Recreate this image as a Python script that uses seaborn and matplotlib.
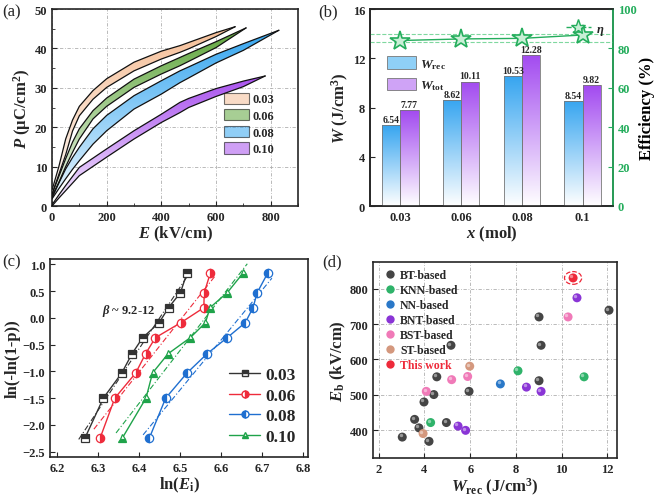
import matplotlib
matplotlib.use("Agg")
import matplotlib.pyplot as plt
import matplotlib.transforms as mtransforms
import numpy as np
import pandas as pd
import seaborn as sns
from matplotlib.colors import LinearSegmentedColormap
from matplotlib.lines import Line2D
from matplotlib.patches import Patch, Ellipse
from matplotlib.ticker import MultipleLocator

# ---------------- data ----------------
# (a) unipolar P-E loops: upper / lower branches
E_003 = [0, 25, 50, 75, 100, 150, 200, 300, 400, 468, 500, 600, 670]
P_003_up = [4.0, 10.0, 17.0, 21.8, 25.3, 29.3, 32.3, 36.5, 39.3, 40.7, 41.5, 44.0, 45.5]
P_003_lo = [3.0, 8.0, 13.0, 19.0, 22.9, 27.1, 30.1, 34.3, 37.3, 39.0, 39.9, 43.0, 45.5]
E_006 = [0, 25, 50, 75, 100, 150, 200, 300, 400, 468, 500, 600, 710]
P_006_up = [3.0, 7.5, 12.0, 16.2, 19.6, 24.2, 27.4, 32.2, 35.6, 37.7, 38.7, 41.7, 45.2]
P_006_lo = [2.5, 6.0, 10.0, 13.6, 17.0, 22.1, 25.3, 30.1, 33.5, 35.6, 36.7, 40.2, 45.2]
E_008 = [0, 25, 50, 75, 100, 150, 200, 300, 400, 468, 500, 600, 700, 830]
P_008_up = [2.0, 5.8, 9.4, 12.3, 14.9, 19.6, 23.0, 28.0, 31.8, 34.3, 35.3, 38.5, 41.2, 44.6]
P_008_lo = [1.8, 4.4, 6.9, 9.3, 11.5, 15.7, 19.1, 24.6, 28.4, 31.3, 32.5, 36.3, 39.5, 44.6]
E_010 = [0, 25, 50, 75, 100, 200, 300, 400, 468, 500, 600, 700, 780]
P_010_up = [0.3, 2.8, 5.2, 7.5, 9.8, 14.5, 19.1, 23.3, 26.3, 27.3, 29.8, 31.7, 33.0]
P_010_lo = [0.0, 2.0, 3.9, 5.8, 7.7, 12.4, 17.0, 21.2, 23.7, 25.0, 27.8, 30.3, 33.0]
loop_labels = ["0.03", "0.06", "0.08", "0.10"]

# (b) energy storage
x_mol = ["0.03", "0.06", "0.08", "0.1"]
W_rec = [6.54, 8.62, 10.53, 8.54]
W_tot = [7.77, 10.11, 12.28, 9.82]
eta = [84.0, 84.8, 85.1, 86.8]

# (c) Weibull
weib_y = [-2.25, -1.50, -1.03, -0.67, -0.37, -0.09, 0.19, 0.47, 0.84]
lnE_003 = [6.267, 6.312, 6.357, 6.382, 6.408, 6.448, 6.471, 6.500, 6.516]
lnE_006 = [6.304, 6.340, 6.391, 6.415, 6.439, 6.501, 6.557, 6.558, 6.573]
lnE_008 = [6.424, 6.464, 6.516, 6.565, 6.614, 6.658, 6.677, 6.687, 6.713]
lnE_010 = [6.358, 6.416, 6.432, 6.470, 6.524, 6.561, 6.572, 6.614, 6.653]

# (d) comparison
bt_w = [3.03, 3.57, 3.76, 3.98, 4.20, 4.41, 4.54, 4.96, 5.16, 5.95, 9.01, 9.10, 9.01, 12.07]
bt_e = [381, 431, 407, 480, 369, 501, 551, 422, 640, 510, 720, 640, 540, 739]
knn_w = [4.27, 8.09, 10.98]
knn_e = [422, 568, 551]
nn_w = [7.32]
nn_e = [531]
bnt_w = [5.47, 5.80, 8.46, 9.10, 10.67]
bnt_e = [412, 400, 522, 510, 774]
bst_w = [4.08, 5.19, 5.89, 10.28]
bst_e = [510, 543, 552, 720]
st_w = [3.94, 5.98]
st_e = [391, 581]
this_w = [10.50]
this_e = [830]

# ---------------- style ----------------
sns.set_style("ticks")
plt.rcParams["font.family"] = ["Liberation Serif", "DejaVu Serif"]
plt.rcParams["font.weight"] = "bold"
plt.rcParams["axes.labelweight"] = "bold"
plt.rcParams["mathtext.fontset"] = "custom"
plt.rcParams["mathtext.rm"] = "Liberation Serif:bold"
plt.rcParams["mathtext.it"] = "Liberation Serif:italic:bold"
plt.rcParams["mathtext.bf"] = "Liberation Serif:bold"
plt.rcParams["axes.linewidth"] = 1.2
plt.rcParams["xtick.direction"] = "in"
plt.rcParams["ytick.direction"] = "in"
plt.rcParams["xtick.labelsize"] = 9
plt.rcParams["ytick.labelsize"] = 9

TICK = 9
LAB = 12


def gradient_fill(ax, path, color, zorder, lo=0.0):
    """Fill a data-space path with a vertical gradient: colour on top, white below."""
    cmap = LinearSegmentedColormap.from_list("g", ["white", color])
    verts = path.vertices
    x0, y0 = verts.min(axis=0)
    x1, y1 = verts.max(axis=0)
    grad = np.linspace(lo, 1, 256).reshape(-1, 1)
    xl, yl = ax.get_xlim(), ax.get_ylim()
    im = ax.imshow(grad, extent=[x0, x1, y0, y1], origin="lower", cmap=cmap,
                   vmin=0, vmax=1, aspect="auto", zorder=zorder)
    im.set_clip_path(path, ax.transData)
    ax.set_xlim(xl)
    ax.set_ylim(yl)


def bold_ticks(ax):
    for t in ax.get_xticklabels() + ax.get_yticklabels():
        t.set_fontweight("bold")


def panel_letter(fig, x, y, s):
    fig.text(x / 661, 1 - y / 502, s, fontsize=12, fontweight="normal",
             ha="left", va="center")


fig = plt.figure(figsize=(6.61, 5.02), dpi=100)

# ---------------- (a) ----------------
axa = fig.add_axes([52 / 661, 1 - 207 / 502, 246 / 661, 197 / 502])
axa.set_xlim(0, 900)
axa.set_ylim(0, 50)
loops = [(E_003, P_003_up, P_003_lo, "#f5bf98"),
         (E_006, P_006_up, P_006_lo, "#5fa63c"),
         (E_008, P_008_up, P_008_lo, "#35a6f0"),
         (E_010, P_010_up, P_010_lo, "#a850ee")]
for E, up, lo, c in loops:
    poly = axa.fill_between(E, lo, up, facecolor="none", edgecolor="none", zorder=3)
    gradient_fill(axa, poly.get_paths()[0], c, zorder=3, lo=0.1)
    sns.lineplot(x=E, y=up, ax=axa, color="#111111", lw=0.9, zorder=4)
    sns.lineplot(x=E, y=lo, ax=axa, color="#111111", lw=0.9, zorder=4)
axa.set_xticks([0, 200, 400, 600, 800])
axa.set_yticks([0, 10, 20, 30, 40, 50])
axa.xaxis.set_minor_locator(MultipleLocator(100))
axa.yaxis.set_minor_locator(MultipleLocator(5))
axa.tick_params(which="both", top=False, right=False)
axa.grid(True, which="major", ls=(0, (4, 2, 1, 2)), lw=0.6, color="#b0b0b0")
axa.set_xlabel("$\\it{E}$ (kV/cm)", fontsize=LAB, labelpad=1)
axa.set_ylabel("$\\it{P}$ (μC/cm$^2$)", fontsize=LAB, labelpad=1)
hand_a = [Patch(facecolor=c, edgecolor="black", lw=0.8, alpha=0.55) for *_, c in loops]
axa.legend(hand_a, loop_labels, loc="lower right", bbox_to_anchor=(0.95, 0.2),
           frameon=False, fontsize=9, handlelength=2.0, handleheight=1.0,
           labelspacing=0.3, handletextpad=0.3)
bold_ticks(axa)
panel_letter(fig, 2, 12, "(a)")

# ---------------- (b) ----------------
axb = fig.add_axes([370 / 661, 1 - 207 / 502, 243 / 661, 197 / 502])
df_b = pd.DataFrame({"x": x_mol * 2, "W": W_rec + W_tot,
                     "kind": ["rec"] * 4 + ["tot"] * 4})
sns.barplot(data=df_b, x="x", y="W", hue="kind", ax=axb, width=0.6,
            palette=["#36a5f0", "#a24af0"], edgecolor="#777777", linewidth=0.6,
            legend=False)
axb.set_xlim(-0.5, 3.5)
axb.set_ylim(0, 16)
bar_cols = ["#36a5f0"] * 4 + ["#a24af0"] * 4
for p, c in zip(axb.patches, bar_cols):
    p.set_facecolor("none")
    p.set_zorder(3)
    path = p.get_path().transformed(p.get_patch_transform())
    gradient_fill(axb, path, c, zorder=2.9)
for p, v in zip(axb.patches, W_rec + W_tot):
    axb.text(p.get_x() + p.get_width() / 2, p.get_height() + 0.1, f"{v:.2f}",
             ha="center", va="bottom", fontsize=7, zorder=5)
axb.set_yticks([0, 4, 8, 12, 16])
axb.set_xlabel("$\\it{x}$ (mol)", fontsize=LAB, labelpad=1)
axb.set_ylabel("$\\it{W}$ (J/cm$^3$)", fontsize=LAB, labelpad=1)
axb.tick_params(right=False)
hand_b = [Patch(facecolor="#8fd0f7", edgecolor="#777777", lw=0.6),
          Patch(facecolor="#cfa3f6", edgecolor="#777777", lw=0.6)]
axb.legend(hand_b, ["$\\it{W}_{\\rm rec}$", "$\\it{W}_{\\rm tot}$"],
           loc="upper left", bbox_to_anchor=(0.02, 0.82), frameon=False,
           fontsize=9.5, handlelength=2.2, handleheight=1.1, labelspacing=0.5,
           handletextpad=0.3)
bold_ticks(axb)

GREEN = "#24ad5c"
axb2 = axb.twinx()
axb2.set_ylim(0, 100)
axb2.axhline(83, color="#7fd89f", ls="--", lw=0.8)
axb2.axhline(87.5, color="#7fd89f", ls="--", lw=0.8)
sns.lineplot(x=[0, 1, 2, 3], y=eta, ax=axb2, color=GREEN, lw=1.0, marker="*",
             markersize=15, markerfacecolor="#c9efd6", markeredgecolor=GREEN,
             markeredgewidth=1.2)
axb2.set_yticks([0, 20, 40, 60, 80, 100])
axb2.set_ylabel("Efficiency (%)", fontsize=LAB, labelpad=2)
axb2.spines["right"].set_color(GREEN)
axb2.tick_params(axis="y", colors=GREEN, labelsize=TICK)
axb2.yaxis.label.set_color("black")
axb2.legend([Line2D([], [], color=GREEN, ls="--", lw=1.0, marker="*", markersize=11,
                    markerfacecolor="#c9efd6", markeredgecolor=GREEN)],
            ["$\\it{η}$"], loc="upper right", bbox_to_anchor=(1.0, 0.975),
            frameon=False, fontsize=9, handlelength=2.0, handletextpad=0.4,
            borderpad=0.2)
bold_ticks(axb2)
panel_letter(fig, 318, 12, "(b)")

# ---------------- (c) ----------------
axc = fig.add_axes([50 / 661, 1 - 458 / 502, 258 / 661, 198 / 502])
weib = [(lnE_003, "#333333", "s", "top", "0.03"),
        (lnE_006, "#ee2b3b", "o", "right", "0.06"),
        (lnE_008, "#1f6fd0", "o", "left", "0.08"),
        (lnE_010, "#1fa34a", "^", "bottom", "0.10")]
hand_c = []
for xs, c, m, fs, lab in weib:
    axc.plot(xs, weib_y, color=c, lw=1.0, marker=m, fillstyle=fs, markersize=6,
             markerfacecolor=c, markerfacecoloralt="white", markeredgecolor=c,
             markeredgewidth=0.9, zorder=4)
    k, b = np.polyfit(xs, weib_y, 1)
    xf = np.array([min(xs) - 0.015, max(xs) + 0.01])
    sns.lineplot(x=xf, y=k * xf + b, ax=axc, color=c, lw=0.8,
                 ls=(0, (5, 2, 1, 2)), zorder=3)
    hand_c.append(Line2D([], [], color=c, lw=1.0, marker=m, fillstyle=fs,
                         markersize=5, markerfacecolor=c, markerfacecoloralt="white",
                         markeredgecolor=c))
axc.set_xlim(6.182, 6.811)
axc.set_ylim(-2.6, 1.1)
axc.set_xticks(np.round(np.arange(6.2, 6.81, 0.1), 1))
axc.set_yticks([-2.5, -2.0, -1.5, -1.0, -0.5, 0.0, 0.5, 1.0])
axc.tick_params(top=False, right=False)
axc.text(6.308, 0.15, "$\\it{β}$ ~ 9.2-12", fontsize=9, ha="left", va="center")
axc.set_xlabel("ln($\\it{E}_{\\rm i}$)", fontsize=LAB, labelpad=1)
axc.set_ylabel("ln(-ln(1-p))", fontsize=LAB, labelpad=1)
axc.legend(hand_c, [w[4] for w in weib], loc="lower right", frameon=False,
           fontsize=12.5, handlelength=1.8, labelspacing=0.25, handletextpad=0.3,
           borderaxespad=0.3)
bold_ticks(axc)
panel_letter(fig, 2, 262, "(c)")

# ---------------- (d) ----------------
axd = fig.add_axes([373 / 661, 1 - 459 / 502, 244 / 661, 196 / 502])
groups = [("BT-based", bt_w, bt_e, "#454545"),
          ("KNN-based", knn_w, knn_e, "#2fb36a"),
          ("NN-based", nn_w, nn_e, "#2a78c8"),
          ("BNT-based", bnt_w, bnt_e, "#8a35d6"),
          ("BST-based", bst_w, bst_e, "#f07ab8"),
          ("ST-based", st_w, st_e, "#d4987e"),
          ("This work", this_w, this_e, "#ee2a3a")]
df_d = pd.DataFrame({
    "W": sum([g[1] for g in groups], []),
    "E": sum([g[2] for g in groups], []),
    "group": sum([[g[0]] * len(g[1]) for g in groups], []),
})
pal = {g[0]: g[3] for g in groups}
sns.scatterplot(data=df_d, x="W", y="E", hue="group", palette=pal, ax=axd,
                s=42, edgecolor="none", zorder=4, legend=False)
# small highlight to give the balls a glossy look
hl = mtransforms.offset_copy(axd.transData, fig=fig, x=-1.2, y=1.2, units="points")
axd.scatter(df_d["W"], df_d["E"], s=6, color="white", alpha=0.45, lw=0,
            transform=hl, zorder=5)
axd.add_patch(Ellipse((this_w[0], this_e[0]), 0.75, 36, facecolor="none",
                      edgecolor="#ee2a3a", ls="--", lw=0.9, zorder=3))
axd.set_xlim(1.75, 12.42)
axd.set_ylim(322, 875)
axd.set_xticks([2, 4, 6, 8, 10, 12])
axd.set_yticks([400, 500, 600, 700, 800])
axd.tick_params(top=False, right=False)
axd.grid(True, ls=(0, (4, 2, 1, 2)), lw=0.6, color="#b0b0b0")
axd.set_xlabel("$\\it{W}_{\\rm rec}$ (J/cm$^3$)", fontsize=LAB, labelpad=1)
axd.set_ylabel("$\\it{E}_{\\rm b}$ (kV/cm)", fontsize=LAB, labelpad=1)
hand_d = [Line2D([], [], ls="", marker="o", markersize=6, markerfacecolor=g[3],
                 markeredgecolor="none") for g in groups]
leg = axd.legend(hand_d, [g[0] for g in groups], loc="upper left", frameon=False,
                 fontsize=8.5, handletextpad=0.1, labelspacing=0.25,
                 borderaxespad=0.3, handlelength=1.6, borderpad=0.3)
leg.get_texts()[-1].set_color("#ee2a3a")
bold_ticks(axd)
panel_letter(fig, 322, 262, "(d)")

fig.savefig("out.png", dpi=100)
